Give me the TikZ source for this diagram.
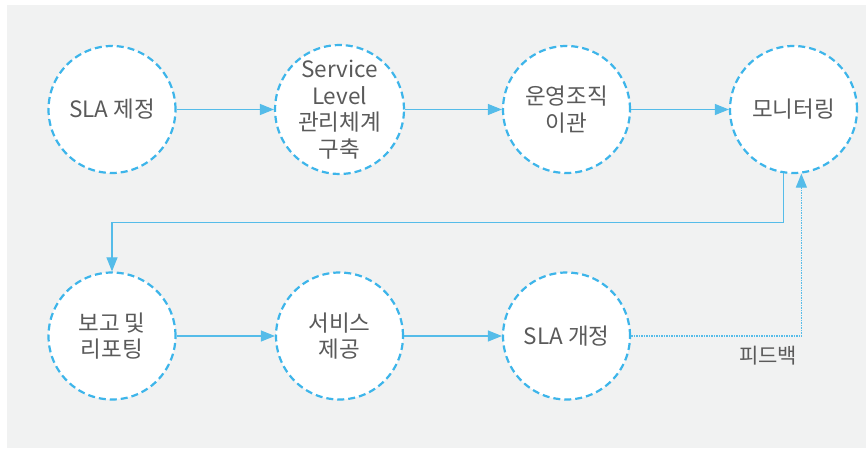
\documentclass[tikz,border=0pt]{standalone}
\usepackage{fontspec}
\setmainfont{Noto Sans CJK KR}
\usetikzlibrary{arrows.meta}
\definecolor{bgc}{HTML}{F1F2F2}
\definecolor{ring}{HTML}{3DB5EA}
\definecolor{conn}{HTML}{55BCE9}
\definecolor{txt}{HTML}{5A5A5A}
\tikzset{
  stage/.style={circle, draw=ring, fill=white, line width=2.2pt,
    dash pattern=on 7pt off 4pt, minimum size=127pt, inner sep=0pt,
    align=center, text=txt, font=\fontsize{22.5}{26.5}\selectfont},
  flow/.style={draw=conn, line width=1.1pt, -{Triangle[length=14pt,width=11pt]}},
  fb/.style={draw=conn, line width=1.1pt, dash pattern=on 1.5pt off 1pt, -{Triangle[length=14pt,width=11pt]}},
  lbl/.style={text=txt, font=\fontsize{21}{24}\selectfont}
}
\begin{document}
\begin{tikzpicture}[x=1pt,y=1pt]
\useasboundingbox (0,0) rectangle (866,448);
\fill[white] (0,0) rectangle (866,448);
\fill[bgc] (7,0) rectangle (866,443);
\node[stage] (sla) at (112,338.5) {SLA 제정};
\node[stage] (svl) at (339.5,338.5) {Service\\Level\\관리체계\\구축};
\node[stage] (org) at (566.5,338.5) {운영조직\\이관};
\node[stage] (mon) at (793.5,338.5) {모니터링};
\node[stage] (rep) at (112,112) {보고 및\\리포팅};
\node[stage] (srv) at (339.5,112) {서비스\\제공};
\node[stage] (rev) at (566.5,112) {SLA 개정};
\draw[flow] (sla) -- (svl);
\draw[flow] (svl) -- (org);
\draw[flow] (org) -- (mon);
\draw[flow] (mon.-99.5) -- ++(0,-49.6) coordinate (turn) -| (rep.north);
\draw[flow] (rep) -- (srv);
\draw[flow] (srv) -- (rev);
\draw[fb] (rev.east) -| (mon.-83.2);
\node[lbl] (fbl) at (768,92) {피드백};
\end{tikzpicture}
\end{document}
